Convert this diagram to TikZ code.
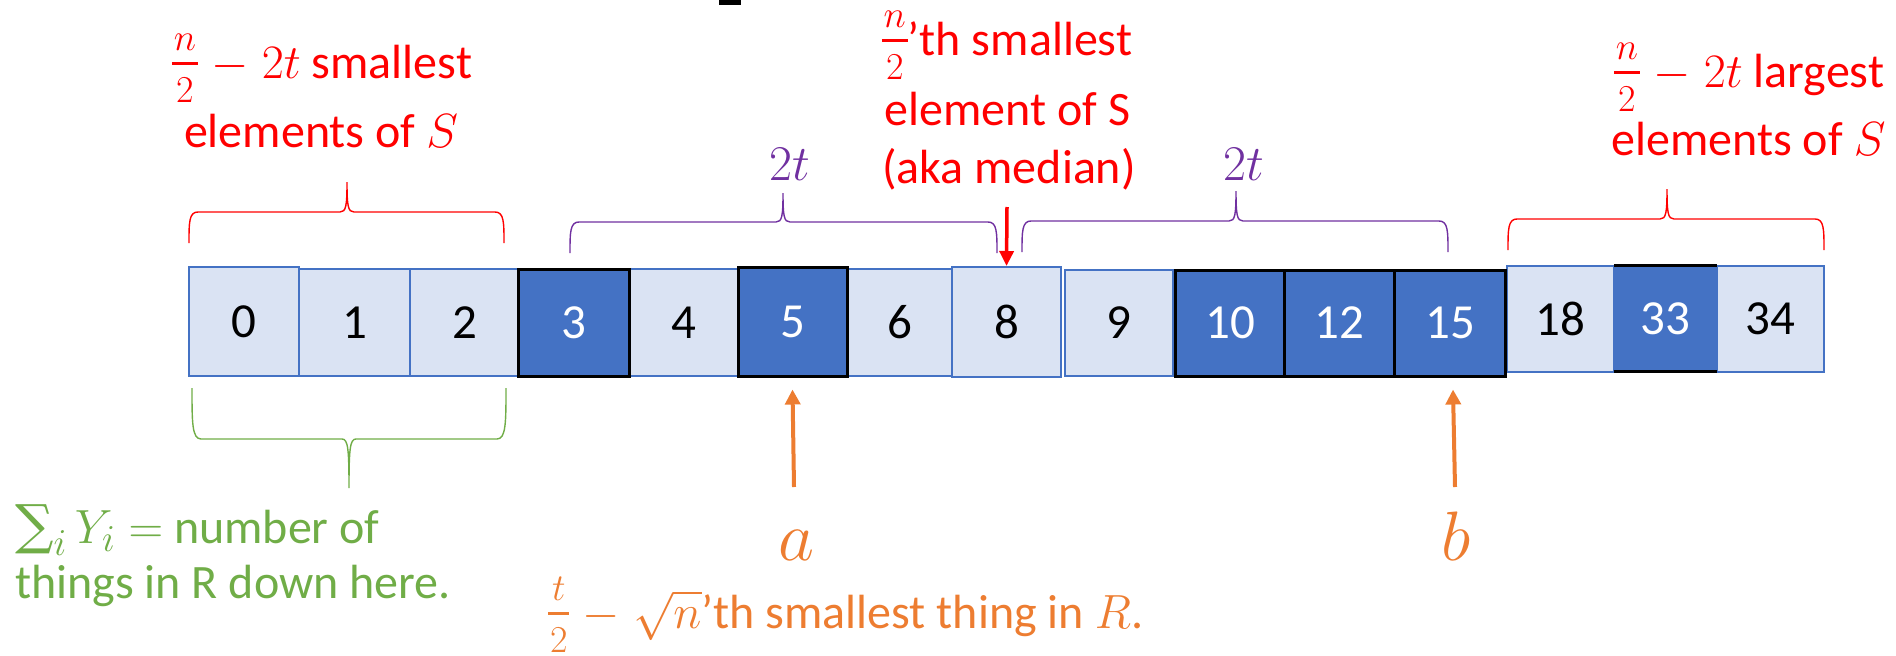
\RequirePackage{fix-cm}
\documentclass[tikz,border=0pt]{standalone}
\usepackage{exscale}
\usepackage{fontspec}
\setmainfont{Carlito}
\newfontfamily\sumfont{DejaVu Serif}
\usetikzlibrary{arrows.meta}
\DeclareMathSizes{48}{48}{38}{28}
\definecolor{oblue}{HTML}{4472C4}
\definecolor{olight}{HTML}{DAE3F3}
\definecolor{ored}{HTML}{FF0000}
\definecolor{opurple}{HTML}{7030A0}
\definecolor{ogreen}{HTML}{70AD47}
\definecolor{oorange}{HTML}{ED7D31}
\newcommand\ofrac[2]{\mbox{\setbox0\hbox{$\scriptstyle#1$}\setbox2\hbox{$\scriptstyle#2$}%
  \dimen0=\wd0 \ifdim\wd2>\dimen0 \dimen0=\wd2\fi \advance\dimen0 by 0.08em
  \rlap{\raisebox{0.58em}{\hbox to\dimen0{\hss\box0\hss}}}%
  \rlap{\raisebox{-0.5em}{\hbox to\dimen0{\hss\box2\hss}}}%
  \raisebox{0.28em}{\rule{\dimen0}{0.06em}}}}
\newcommand\mybrace[7]{%
  \draw[bracepath,#1] (#2,#7) .. controls (#2,{#6+0.33*(#7-#6)}) and (#2,#6) .. ({#2+9},#6)
    -- ({#4-7},#6) .. controls ({#4-1},#6) and (#4,{#6+0.2*(#5-#6)}) .. (#4,#5)
    .. controls (#4,{#6+0.2*(#5-#6)}) and ({#4+1},#6) .. ({#4+7},#6)
    -- ({#3-9},#6) .. controls (#3,#6) and (#3,{#6+0.33*(#7-#6)}) .. (#3,#7);}
\tikzset{
  boxfont/.style={font=\fontsize{49}{59}\selectfont},
  lbox/.style={boxfont, draw=oblue, fill=olight, line width=2pt, inner sep=0pt, text=black},
  dbox/.style={boxfont, draw=black, fill=oblue, line width=3pt, inner sep=0pt, text=white},
  lab/.style={font=\fontsize{48}{58}\selectfont, inner sep=0pt, anchor=base},
  bracepath/.style={line width=1.4pt},
  redarrow/.style={draw=ored, line width=3.5pt, -{Triangle[length=15pt,width=14pt]}},
  orarrow/.style={draw=oorange, line width=4pt, -{Triangle[length=15pt,width=15pt]}},
}
\begin{document}
\begin{tikzpicture}[x=1pt,y=-1pt]
\useasboundingbox (0,0) rectangle (1896,656);
% cut-off glyph at top
\fill[black] (719,0) rectangle (741,5);
% light boxes
\node[lbox, minimum width=110pt, minimum height=109pt] (b0) at (244,321.5) {0};
\node[lbox, minimum width=111pt, minimum height=107pt] (b1) at (354.5,322.5) {1};
\node[lbox, minimum width=109pt, minimum height=107pt] (b2) at (464.5,322.5) {2};
\node[lbox, minimum width=108.5pt, minimum height=107pt] (b4) at (684,322.5) {4};
\node[lbox, minimum width=105pt, minimum height=107pt] (b6) at (899.5,322.5) {6};
\node[lbox, minimum width=109pt, minimum height=110pt] (b8) at (1006.5,322) {8};
\node[lbox, minimum width=108.5pt, minimum height=106pt] (b9) at (1119,323) {9};
\node[lbox, minimum width=107pt, minimum height=106pt] (b18) at (1560.5,318.7) {18};
\node[lbox, minimum width=107pt, minimum height=106pt] (b34) at (1770.5,318.7) {34};
% dark boxes
\node[dbox, minimum width=110.5pt, minimum height=107pt] (b3) at (574,322.5) {3};
\node[dbox, minimum width=109pt, minimum height=109pt] (b5) at (792.5,321.5) {5};
\node[dbox, minimum width=108.5pt, minimum height=106pt] (b10) at (1230,323) {10};
\node[dbox, minimum width=109.5pt, minimum height=106pt] (b12) at (1339.5,323) {12};
\node[dbox, minimum width=111.5pt, minimum height=106pt] (b15) at (1450,323) {15};
\node[boxfont, fill=oblue, inner sep=0pt, text=white, minimum width=103pt, minimum height=106pt] (b33) at (1665.5,318.7) {33};
\draw[line width=3pt] (b33.north west) -- (b33.north east);
\draw[line width=3pt] (b33.south west) -- (b33.south east);
% braces
\mybrace{ored}{189}{504}{347}{182}{212}{243}
\mybrace{opurple}{570}{997}{783}{193}{222}{253}
\mybrace{opurple}{1022}{1448}{1236}{191}{221}{252}
\mybrace{ored}{1508}{1824}{1667}{189}{219}{250}
\mybrace{ogreen}{192}{506}{349}{488}{439}{388}
% red labels
\node[lab, text=ored] (l1a) at (322,78) {\ofrac{n}{2}$\;-\;2t$ smallest};
\node[lab, text=ored] (l1b) at (321,147) {elements of $S$};
\node[lab, text=ored] (m1) at (1007,55) {\ofrac{n}{2}’th smallest};
\node[lab, text=ored] (m2) at (1007.5,125) {element of S};
\node[lab, text=ored] (m3) at (1009,183) {(aka median)};
\node[lab, text=ored] (r1) at (1749,87) {\ofrac{n}{2}$\;-\;2t$ largest};
\node[lab, text=ored] (r2) at (1748.5,155) {elements of $S$};
% purple labels
\node[lab, text=opurple, font=\fontsize{50}{60}\selectfont] (p1) at (790,180) {$2t$};
\node[lab, text=opurple, font=\fontsize{50}{60}\selectfont] (p2) at (1244,180) {$2t$};
% red arrow
\coordinate (rs) at (1007,207);
\draw[redarrow] (rs) -- (b8.north);
% orange arrows
\coordinate (as) at (794,487);
\coordinate (bs) at (1455,487);
\draw[orarrow] (as) -- ([yshift=-12pt]b5.south);
\draw[orarrow] (bs) -- ([xshift=3pt,yshift=-12pt]b15.south);
\node[lab, text=oorange, font=\fontsize{70}{80}\selectfont] (la) at (796,560) {$a$};
\node[lab, text=oorange, font=\fontsize{70}{80}\selectfont] (lb) at (1456,560) {$b$};
\node[lab, anchor=base west, text=oorange] (ot) at (548,628) {\ofrac{t}{2}$\;-\;\sqrt{n}$’th smallest thing in $R$.};
% green labels
\node[lab, anchor=base west, text=ogreen] (g1) at (15,543) {$\mathop{\hbox{\sumfont\fontsize{54}{60}\selectfont ∑}}\nolimits_i Y_i =$ number of};
\node[lab, anchor=base west, text=ogreen] (g2) at (15,598) {things in R down here.};
\end{tikzpicture}
\end{document}
